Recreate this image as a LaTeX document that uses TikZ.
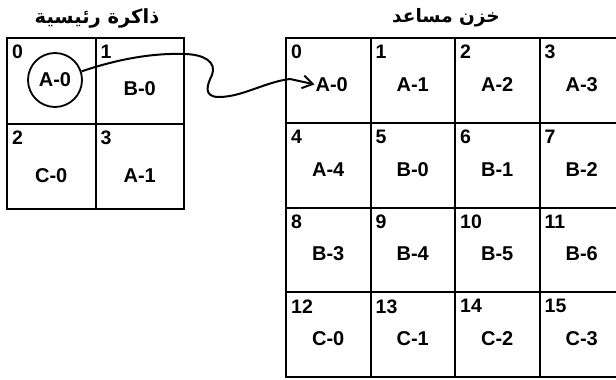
\documentclass[tikz,border=0pt]{standalone}
\usepackage{fontspec}
\setmainfont{Liberation Sans}
\newfontfamily\arabicfont[Script=Arabic]{DejaVu Sans}
\TeXXeTstate=1
\usetikzlibrary{arrows.meta}
\begin{document}
\begin{tikzpicture}[x=1pt,y=-1pt,
  cellbox/.style={draw,line width=2pt,rectangle,inner sep=0pt},
  numlab/.style={anchor=north west,inner sep=0pt,font=\fontsize{19.5}{20}\selectfont\bfseries},
  vallab/.style={inner sep=1pt,font=\fontsize{20}{21}\selectfont\bfseries},
  titlelab/.style={inner sep=0pt,font=\arabicfont\fontsize{18.5}{22}\selectfont\bfseries}]
\useasboundingbox (0,0) rectangle (616,380);
% titles
\node[titlelab,font=\arabicfont\fontsize{19.5}{22}\selectfont\bfseries] (t1) at (97,18) {\beginR ذاكرة رئيسية\endR};
\node[titlelab] (t2) at (446,18) {\beginR خزن مساعد\endR};
% left grid (main memory)
\def\lw{88.5}\def\lh{85.5}
\foreach \i in {0,1,2,3}{
  \pgfmathtruncatemacro\c{mod(\i,2)}
  \pgfmathtruncatemacro\r{int(\i/2)}
  \pgfmathsetmacro\xx{6+\c*\lw}
  \pgfmathsetmacro\yy{37+\r*\lh}
  \node[cellbox,minimum width=\lw pt,minimum height=\lh pt,anchor=north west] (m\i) at (\xx,\yy) {};
  \node[numlab] (mn\i) at ([xshift=6pt,yshift=-8pt]m\i.north west) {\i};
}
\node[vallab] (mv1) at ([yshift=-8pt]m1.center) {B-0};
\node[vallab] (mv2) at ([yshift=-9pt]m2.center) {C-0};
\node[vallab] (mv3) at ([yshift=-9pt]m3.center) {A-1};
\node[draw,circle,line width=1.8pt,minimum size=54pt,inner sep=0pt,font=\fontsize{20}{21}\selectfont\bfseries] (mv0) at (55,80) {A-0};
% right grid (secondary storage)
\def\rw{84.5}\def\rh{84.75}
\foreach \i/\v in {0/A-0,1/A-1,2/A-2,3/A-3,4/A-4,5/B-0,6/B-1,7/B-2,8/B-3,9/B-4,10/B-5,11/B-6,12/C-0,13/C-1,14/C-2,15/C-3}{
  \pgfmathtruncatemacro\c{mod(\i,4)}
  \pgfmathtruncatemacro\r{int(\i/4)}
  \pgfmathsetmacro\xx{285+\c*\rw}
  \pgfmathsetmacro\yy{37+\r*\rh}
  \node[cellbox,minimum width=\rw pt,minimum height=\rh pt,anchor=north west] (s\i) at (\xx,\yy) {};
  \node[numlab] (sn\i) at ([xshift=6pt,yshift=-8pt]s\i.north west) {\i};
  \pgfmathsetmacro\dx{ifthenelse(\i==0,3.5,0)}
  \node[vallab] (sv\i) at ([xshift=\dx pt,yshift=-4pt]s\i.center) {\v};
}
% connector
\draw[line width=2pt,-{Straight Barb[length=10pt,width=13pt,line width=2pt]}]
  (mv0.18) .. controls (115,60) and (150,53) .. (183,54)
  .. controls (204,54) and (217,62) .. (212,75)
  .. controls (207,85) and (203,97) .. (219,97)
  .. controls (242,97) and (265,82) .. (290,79)
  -- (sv0.west);
\end{tikzpicture}
\end{document}
